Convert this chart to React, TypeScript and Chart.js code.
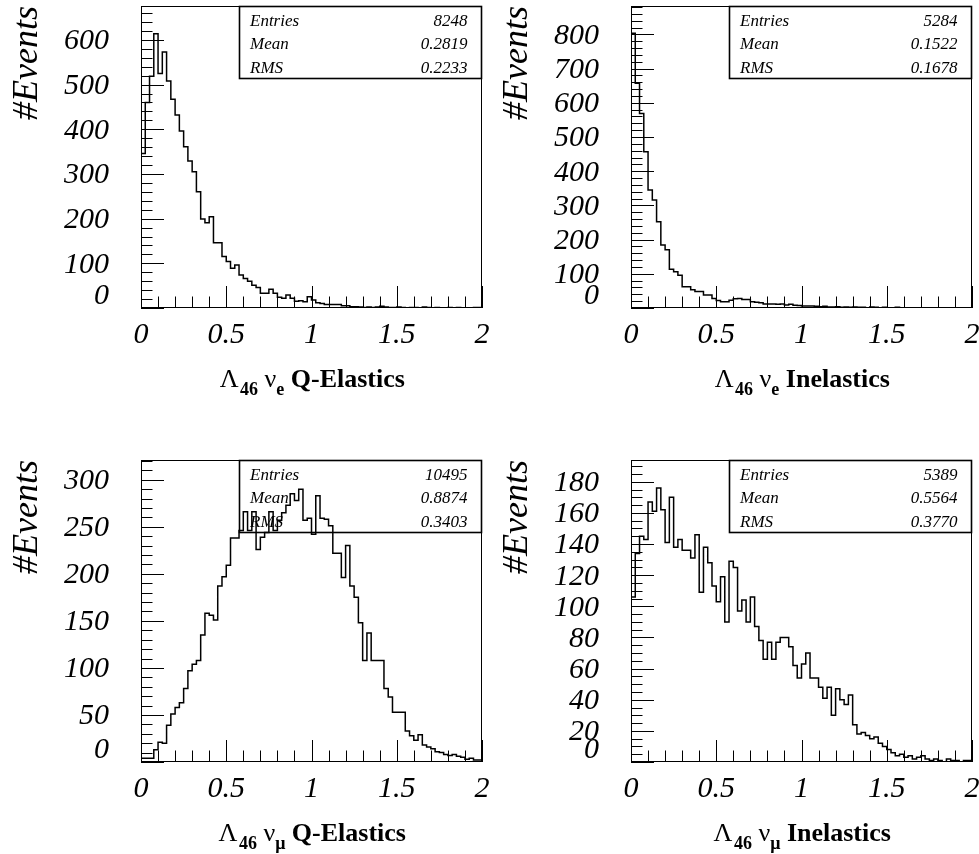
import React, { useEffect, useRef } from "react";
import { Chart, registerables } from "chart.js";

Chart.register(...registerables);

// ---------- data ----------
const X_MIN = 0;
const X_MAX = 2;
const BIN_WIDTH = 0.025; // 80 bins from 0 to 2

const xTickValues = [0, 0.5, 1, 1.5, 2];
const xTickLabels = ["0", "0.5", "1", "1.5", "2"];

// nu_e quasi-elastic
const nueQelCounts = [
  137, 346, 460, 519, 614, 525, 573, 508, 467, 432,
  396, 361, 329, 305, 260, 199, 191, 204, 146, 146,
  115, 104, 89, 96, 74, 66, 60, 51, 46, 33,
  33, 42, 33, 24, 22, 29, 22, 15, 16, 14,
  25, 18, 12, 10, 8, 8, 8, 8, 5, 5,
  3, 3, 2, 1, 2, 1, 2, 4, 2, 1,
  1, 2, 1, 0, 1, 1, 0, 2, 1, 0,
  1, 0, 0, 1, 0, 1, 0, 0, 0, 1,
];
const nueQelYTicks = [0, 100, 200, 300, 400, 500, 600];
const nueQelStats = ["8248", "0.2819", "0.2233"];

// nu_e inelastic
const nueInelCounts = [
  618, 803, 657, 569, 457, 345, 316, 252, 184, 170,
  113, 106, 96, 62, 62, 53, 48, 48, 38, 38,
  28, 22, 18, 18, 23, 27, 28, 25, 25, 18,
  17, 15, 12, 12, 12, 11, 12, 9, 11, 8,
  7, 6, 6, 6, 5, 4, 5, 3, 3, 4,
  2, 3, 2, 3, 2, 2, 1, 3, 2, 1,
  2, 1, 1, 2, 1, 0, 1, 1, 0, 1,
  0, 1, 0, 0, 1, 0, 0, 1, 0, 0,
];
const nueInelYTicks = [0, 100, 200, 300, 400, 500, 600, 700, 800];
const nueInelStats = ["5284", "0.1522", "0.1678"];

// nu_mu quasi-elastic
const numuQelCounts = [
  5, 4, 4, 4, 13, 21, 20, 39, 51, 58,
  63, 78, 97, 104, 108, 135, 158, 156, 151, 187,
  197, 209, 238, 238, 246, 266, 246, 266, 226, 239,
  244, 266, 246, 257, 265, 273, 285, 278, 290, 257,
  259, 242, 283, 259, 258, 251, 222, 222, 196, 230,
  187, 175, 148, 108, 137, 108, 108, 108, 78, 69,
  53, 53, 53, 33, 28, 23, 29, 18, 16, 14,
  11, 10, 8, 7, 8, 6, 5, 3, 4, 2,
];
const numuQelYTicks = [0, 50, 100, 150, 200, 250, 300];
const numuQelStats = ["10495", "0.8874", "0.3403"];

// nu_mu inelastic
const numuInelCounts = [
  54, 106, 134, 145, 143, 167, 161, 176, 162, 141,
  170, 138, 143, 136, 136, 131, 146, 109, 138, 128,
  113, 103, 119, 90, 129, 125, 97, 104, 90, 106,
  87, 78, 66, 77, 66, 77, 80, 80, 74, 62,
  54, 63, 70, 54, 54, 48, 41, 48, 30, 47,
  40, 37, 43, 24, 18, 19, 17, 15, 16, 12,
  10, 8, 6, 4, 5, 3, 4, 2, 3, 4,
  2, 1, 2, 1, 0, 2, 1, 1, 0, 1,
];
const numuInelYTicks = [0, 20, 40, 60, 80, 100, 120, 140, 160, 180];
const numuInelStats = ["5389", "0.5564", "0.3770"];

const statNames = ["Entries", "Mean", "RMS"];

// ---------- styling ----------
const SERIF = '"Liberation Serif", "Times New Roman", Times, serif';

type Panel = {
  counts: number[];
  yTicks: number[];
  yMax: number;
  yMinorStep: number;
  stats: string[];
  flavour: string;
  process: string;
  left: number;
  top: number;
  width: number;
  height: number;
  padTop: number;
};

const panels: Panel[] = [
  { counts: nueQelCounts, yTicks: nueQelYTicks, yMax: 676, yMinorStep: 20, stats: nueQelStats, flavour: "e", process: "Q-Elastics", left: 0, top: 0, width: 490, height: 427, padTop: 6 },
  { counts: nueInelCounts, yTicks: nueInelYTicks, yMax: 883, yMinorStep: 20, stats: nueInelStats, flavour: "e", process: "Inelastics", left: 490, top: 0, width: 489, height: 427, padTop: 6 },
  { counts: numuQelCounts, yTicks: numuQelYTicks, yMax: 321, yMinorStep: 10, stats: numuQelStats, flavour: "\u03bc", process: "Q-Elastics", left: 0, top: 427, width: 490, height: 427, padTop: 33 },
  { counts: numuInelCounts, yTicks: numuInelYTicks, yMax: 194, yMinorStep: 5, stats: numuInelStats, flavour: "\u03bc", process: "Inelastics", left: 490, top: 427, width: 489, height: 427, padTop: 33 },
];

function makePlugin(p: Panel) {
  return {
    id: "rootStyle",
    beforeDatasetsDraw(chart: any) {
      const { ctx, chartArea: a } = chart;
      ctx.save();
      const bx = Math.round(a.left + 98) + 0.5;
      const by = a.top + 0.5;
      const bw = a.right - 0.5 - bx;
      const bh = 72;
      ctx.strokeStyle = "#000";
      ctx.lineWidth = 1.6;
      ctx.strokeRect(bx, by, bw, bh);
      ctx.fillStyle = "#000";
      ctx.font = `italic 17px ${SERIF}`;
      ctx.textBaseline = "alphabetic";
      statNames.forEach((name, i) => {
        const yb = a.top + 20 + i * 23.4;
        ctx.textAlign = "left";
        ctx.fillText(name, bx + 10.5, yb);
        ctx.textAlign = "right";
        ctx.fillText(p.stats[i], a.right - 14.5, yb);
      });
      ctx.restore();
    },
    afterDatasetsDraw(chart: any) {
      const { ctx, chartArea: a, scales } = chart;
      const xs = scales.x;
      const ys = scales.y;
      ctx.save();
      ctx.strokeStyle = "#000";
      ctx.fillStyle = "#000";
      ctx.lineWidth = 1;
      // frame
      ctx.strokeRect(a.left + 0.5, a.top + 0.5, a.right - a.left - 1, a.bottom - a.top - 1);

      const yMajorStep = p.yTicks[1] - p.yTicks[0];
      // y ticks (inward)
      ctx.beginPath();
      for (let k = 0; k * p.yMinorStep <= p.yMax + 1e-9; k++) {
        const v = k * p.yMinorStep;
        const r = v / yMajorStep;
        const major = Math.abs(r - Math.round(r)) < 1e-6;
        const y = Math.round(ys.getPixelForValue(v)) + 0.5;
        ctx.moveTo(a.left, y);
        ctx.lineTo(a.left + (major ? 23 : 11.5), y);
      }
      // x ticks (inward)
      const xMinorStep = 0.1;
      for (let k = 0; k * xMinorStep <= X_MAX + 1e-9; k++) {
        const v = X_MIN + k * xMinorStep;
        const major = k % 5 === 0;
        const x = Math.round(xs.getPixelForValue(v)) + 0.5;
        ctx.moveTo(x, a.bottom);
        ctx.lineTo(x, a.bottom - (major ? 22 : 11.5));
      }
      ctx.stroke();

      // y tick labels
      ctx.font = `italic 30px ${SERIF}`;
      ctx.textAlign = "right";
      ctx.textBaseline = "middle";
      p.yTicks.forEach((v) => {
        const y = ys.getPixelForValue(v) + (v === 0 ? -12 : 1.5);
        ctx.fillText(String(v), a.left - 32, y);
      });
      // x tick labels
      ctx.textAlign = "center";
      ctx.textBaseline = "alphabetic";
      xTickValues.forEach((v, i) => {
        ctx.fillText(xTickLabels[i], xs.getPixelForValue(v), a.bottom + 35);
      });

      // y title
      ctx.save();
      ctx.translate(a.left - 104, a.top);
      ctx.rotate(-Math.PI / 2);
      ctx.font = `italic 36px ${SERIF}`;
      ctx.textAlign = "right";
      ctx.textBaseline = "alphabetic";
      ctx.fillText("#Events", 0, 0);
      ctx.restore();

      // x title with subscripts
      const parts = [
        { t: "\u039b", f: `26px ${SERIF}`, dy: 0 },
        { t: "46", f: `bold 18px ${SERIF}`, dy: 8 },
        { t: " ", f: `bold 26px ${SERIF}`, dy: 0 },
        { t: "\u03bd", f: `26px ${SERIF}`, dy: 0 },
        { t: p.flavour, f: `bold 18px ${SERIF}`, dy: 8 },
        { t: " " + p.process, f: `bold 26px ${SERIF}`, dy: 0 },
      ];
      let total = 0;
      const widths = parts.map((pt) => {
        ctx.font = pt.f;
        const w = ctx.measureText(pt.t).width;
        total += w;
        return w;
      });
      let x = (a.left + a.right) / 2 - total / 2;
      const base = a.bottom + 79;
      ctx.textAlign = "left";
      parts.forEach((pt, i) => {
        ctx.font = pt.f;
        ctx.fillText(pt.t, x, base + pt.dy);
        x += widths[i] + (i === 0 ? 1.5 : 0);
      });
      ctx.restore();
    },
  };
}

function HistPanel({ p }: { p: Panel }) {
  const ref = useRef<HTMLCanvasElement | null>(null);
  useEffect(() => {
    if (!ref.current) return;
    const points = p.counts.map((c, i) => ({ x: X_MIN + i * BIN_WIDTH, y: c }));
    points.push({ x: X_MAX, y: p.counts[p.counts.length - 1] });
    points.unshift({ x: X_MIN, y: 0 });
    const chart = new Chart(ref.current, {
      type: "line",
      data: {
        datasets: [
          {
            data: points,
            stepped: "after",
            borderColor: "#000",
            borderWidth: 1.5,
            pointRadius: 0,
            fill: false,
          },
        ],
      },
      options: {
        responsive: false,
        animation: false,
        devicePixelRatio: 1,
        events: [],
        layout: {
          padding: {
            left: 141,
            right: p.width - 482,
            top: p.padTop,
            bottom: p.height - p.padTop - 302,
          },
        },
        scales: {
          x: { type: "linear", min: X_MIN, max: X_MAX, display: false },
          y: { type: "linear", min: 0, max: p.yMax, display: false },
        },
        plugins: {
          legend: { display: false },
          tooltip: { enabled: false },
        },
      },
      plugins: [makePlugin(p)],
    } as any);
    return () => chart.destroy();
  }, [p]);
  return (
    <canvas
      ref={ref}
      width={p.width}
      height={p.height}
      style={{ position: "absolute", left: p.left, top: p.top, width: p.width, height: p.height }}
    />
  );
}

export default function App() {
  return (
    <div style={{ position: "absolute", left: 0, top: 0, width: 979, height: 854, background: "#fff", overflow: "hidden" }}>
      {panels.map((p, i) => (
        <HistPanel key={i} p={p} />
      ))}
    </div>
  );
}
